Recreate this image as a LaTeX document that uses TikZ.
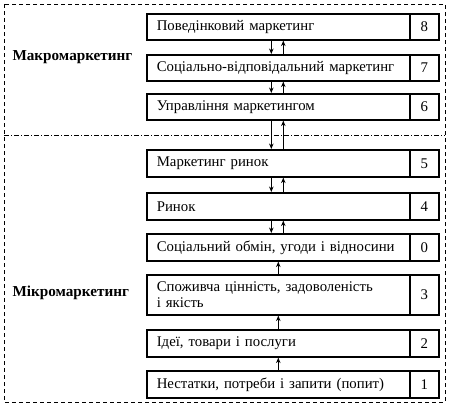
\documentclass[tikz,border=0pt]{standalone}
\usepackage{fontspec}
\setmainfont{Liberation Serif}
\usetikzlibrary{arrows.meta}
\begin{document}
\begin{tikzpicture}[x=1pt,y=-1pt,
  font=\fontsize{14.8}{16}\selectfont,
  tbox/.style={draw, line width=1.6pt, anchor=north west, inner xsep=10pt, inner ysep=0pt,
    text width=243pt, align=left, minimum width=263pt},
  nbox/.style={draw, line width=1.6pt, anchor=north west, inner sep=0pt, minimum width=29pt},
  arr/.style={line width=1pt, -{Stealth[length=5.5pt,width=4.5pt]}},
  lbl/.style={anchor=west, font=\fontsize{15.2}{17}\selectfont\bfseries}]
\useasboundingbox (0,0) rectangle (449,408);
\draw[line width=1pt, dash pattern=on 4pt off 3pt] (4,4) rectangle (445,402);
\draw[line width=1pt, dash pattern=on 5pt off 2pt on 1pt off 2pt] (4,135) -- (445,135);
% boxes
\node[tbox, minimum height=26pt] (t8) at (146,13) {Поведінковий маркетинг};
\node[nbox, minimum height=26pt] (n8) at (409,13) {8};
\node[tbox, minimum height=26pt] (t7) at (146,54) {Соціально-відповідальний маркетинг};
\node[nbox, minimum height=26pt] (n7) at (409,54) {7};
\node[tbox, minimum height=26pt] (t6) at (146,93) {Управління маркетингом};
\node[nbox, minimum height=26pt] (n6) at (409,93) {6};
\node[tbox, minimum height=27pt] (t5) at (146,149) {Маркетинг ринок};
\node[nbox, minimum height=27pt] (n5) at (409,149) {5};
\node[tbox, minimum height=27pt] (t4) at (146,192) {Ринок};
\node[nbox, minimum height=27pt] (n4) at (409,192) {4};
\node[tbox, minimum height=27pt] (t0) at (146,233) {Соціальний обмін, угоди і відносини};
\node[nbox, minimum height=27pt] (n0) at (409,233) {0};
\node[tbox, minimum height=40pt] (t3) at (146,274) {Споживча цінність, задоволеність\\і якість};
\node[nbox, minimum height=40pt] (n3) at (409,274) {3};
\node[tbox, minimum height=27pt] (t2) at (146,329) {Ідеї, товари і послуги};
\node[nbox, minimum height=27pt] (n2) at (409,329) {2};
\node[tbox, minimum height=27pt] (t1) at (146,370) {Нестатки, потреби і запити (попит)};
\node[nbox, minimum height=27pt] (n1) at (409,370) {1};
% labels
\node[lbl] (macro) at (9,57) {Макромаркетинг};
\node[lbl] (micro) at (9,293) {Мікромаркетинг};
% paired arrows
\foreach \a/\b in {t8/t7, t7/t6, t6/t5, t5/t4, t4/t0}{
  \draw[arr] ([xshift=-7pt]\a.south) -- ([xshift=-7pt]\b.north);
  \draw[arr] ([xshift=5pt]\b.north) -- ([xshift=5pt]\a.south);
}
% single arrows
\foreach \a/\b in {t1/t2, t2/t3, t3/t0}{
  \draw[arr] (\a.north) -- (\b.south);
}
\end{tikzpicture}
\end{document}
